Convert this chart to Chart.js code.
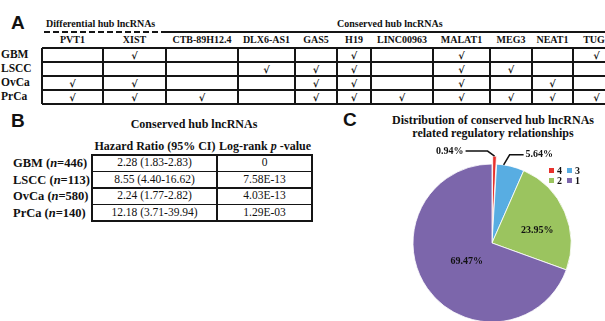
<!DOCTYPE html>
<html>
<head>
<meta charset="utf-8">
<script src="https://cdn.jsdelivr.net/npm/chart.js@4.4.0/dist/chart.umd.min.js"></script>
<style>
  html, body { margin: 0; padding: 0; background: #fff; }
  body { width: 605px; height: 321px; overflow: hidden; position: relative; }
  .t { position: absolute; white-space: nowrap; line-height: 1; color: #111;
       font-family: "Liberation Serif", "Times New Roman", serif; }
  .ln { position: absolute; background: #151515; }
  .panel { position: absolute; font-family: "Liberation Sans", Arial, sans-serif;
           font-weight: bold; font-size: 19px; line-height: 1; color: #111; }
  #pie { position: absolute; left: 392px; top: 143px; }
</style>
</head>
<body>
<canvas id="pie" width="200" height="200"></canvas>
<script>
// ---------- Panel A: hub lncRNAs per cancer type ----------
const diffLncs = ['PVT1', 'XIST', 'CTB-89H12.4', 'DLX6-AS1'];
const consLncs = ['GAS5', 'H19', 'LINC00963', 'MALAT1', 'MEG3', 'NEAT1', 'TUG1'];
const cancerTypes = ['GBM', 'LSCC', 'OvCa', 'PrCa'];
// 1 = lncRNA is a hub in that cancer (order: diffLncs then consLncs)
const hubGBM  = [0, 1, 0, 0, 0, 1, 0, 1, 0, 0, 1];
const hubLSCC = [0, 0, 0, 1, 1, 1, 0, 1, 1, 0, 0];
const hubOvCa = [1, 1, 0, 0, 1, 1, 0, 1, 0, 1, 0];
const hubPrCa = [1, 1, 1, 0, 1, 1, 1, 1, 1, 1, 1];

// ---------- Panel B: survival of conserved hubs ----------
const survivalCohorts = ['GBM', 'LSCC', 'OvCa', 'PrCa'];
const cohortSizes = [446, 113, 580, 140];
const hazardRatios = ['2.28 (1.83-2.83)', '8.55 (4.40-16.62)', '2.24 (1.77-2.82)', '12.18 (3.71-39.94)'];
const logRankP = ['0', '7.58E-13', '4.03E-13', '1.29E-03'];

// ---------- Panel C: regulatory relationship distribution ----------
const relationLabels = ['4', '3', '2', '1'];
const relationShares = [0.94, 5.64, 23.95, 69.47];
const relationColors = ['#e8312c', '#58ade2', '#9bc45f', '#7c66ab'];

// ---------- drawing helpers ----------
function text(str, x, y, font, align) {
  const d = document.createElement('div');
  d.className = 't';
  d.style.font = font;
  d.style.lineHeight = '1';
  d.innerHTML = str;
  d.style.left = x + 'px';
  d.style.top = y + 'px';
  const tx = align === 'l' ? '0' : (align === 'r' ? '-100%' : '-50%');
  d.style.transform = 'translate(' + tx + ', -50%)';
  document.body.appendChild(d);
  return d;
}
function hline(x1, x2, y, w) {
  const d = document.createElement('div');
  d.className = 'ln';
  Object.assign(d.style, { left: x1 + 'px', top: (y - w / 2) + 'px', width: (x2 - x1) + 'px', height: w + 'px' });
  document.body.appendChild(d);
  return d;
}
function vline(x, y1, y2, w) {
  const d = document.createElement('div');
  d.className = 'ln';
  Object.assign(d.style, { left: (x - w / 2) + 'px', top: y1 + 'px', width: w + 'px', height: (y2 - y1) + 'px' });
  document.body.appendChild(d);
  return d;
}
function panelLetter(ch, x, y) {
  const d = document.createElement('div');
  d.className = 'panel';
  d.textContent = ch;
  d.style.left = x + 'px';
  d.style.top = y + 'px';
  document.body.appendChild(d);
}

// ---------- Panel A ----------
panelLetter('A', 11, 13);
const fHead = 'bold 10px "Liberation Serif"';
text('Differential hub lncRNAs', 46, 24, fHead, 'l');
text('Conserved hub lncRNAs', 337, 24, fHead, 'l');
// dashed rule over the differential group, solid rule over the conserved group
const dash = hline(44, 163, 32, 2);
dash.style.background = 'repeating-linear-gradient(90deg, #151515 0 6px, transparent 6px 9px)';
hline(163, 605, 32, 2);

const colEdges = [42, 103, 166, 238, 295, 337, 371, 433, 490, 532, 573, 620];
const rowEdgesA = [48, 62, 76, 90, 104];
const allLncs = diffLncs.concat(consLncs);
const hubRows = [hubGBM, hubLSCC, hubOvCa, hubPrCa];

allLncs.forEach((name, j) => {
  text(name, (colEdges[j] + colEdges[j + 1]) / 2, 40, fHead, 'c');
});
rowEdgesA.forEach((y, i) => hline(42, 605, y, (i === 0 || i === rowEdgesA.length - 1) ? 1.8 : 1.4));
colEdges.forEach(x => vline(x, 48, 104, 1.4));
cancerTypes.forEach((c, i) => {
  const yc = (rowEdgesA[i] + rowEdgesA[i + 1]) / 2;
  text(c, 1, yc, 'bold 11.5px "Liberation Serif"', 'l');
  hubRows[i].forEach((flag, j) => {
    if (flag) text('√', (colEdges[j] + colEdges[j + 1]) / 2, yc + 0.5, 'bold 10px "DejaVu Serif"', 'c');
  });
});

// ---------- Panel B ----------
panelLetter('B', 11, 111);
text('Conserved hub lncRNAs', 194, 124, 'bold 12px "Liberation Serif"', 'c');
const colEdgesB = [92, 217, 312];
const rowEdgesB = [155, 171.5, 188, 204.5, 221];
text('Hazard Ratio (95% CI)', 155, 146, 'bold 12px "Liberation Serif"', 'c');
text('Log-rank <i>p</i> -value', 265, 146, 'bold 12px "Liberation Serif"', 'c');
rowEdgesB.forEach((y, i) => hline(91, 313, y, (i === 0 || i === rowEdgesB.length - 1) ? 2 : 1.5));
colEdgesB.forEach((x, i) => vline(x, 155, 221, i === 1 ? 1.5 : 2));
survivalCohorts.forEach((c, i) => {
  const yc = (rowEdgesB[i] + rowEdgesB[i + 1]) / 2;
  text(c + ' (<i>n</i>=' + cohortSizes[i] + ')', 13, yc, 'bold 12.5px "Liberation Serif"', 'l');
  text(hazardRatios[i], (colEdgesB[0] + colEdgesB[1]) / 2, yc, '11.5px "Liberation Serif"', 'c');
  text(logRankP[i], (colEdgesB[1] + colEdgesB[2]) / 2, yc, '11.5px "Liberation Serif"', 'c');
});

// ---------- Panel C ----------
panelLetter('C', 343, 110);
text('Distribution of conserved hub lncRNAs', 493, 120, 'bold 12px "Liberation Serif"', 'c');
text('related regulatory relationships', 493, 133, 'bold 12px "Liberation Serif"', 'c');

// per-slice label placement: leader lines for thin slices, nudges for inner labels
const labelStyle = [
  { leader: true, at: 0.5, gap: 8, elbow: [-7, -5], run: -22 },
  { leader: true, at: 0.25, gap: 0, elbow: [6, -10], run: 14 },
  { leader: false, nudge: [9, 3] },
  { leader: false, nudge: [7, -4] }
];

const pieAnnotations = {
  id: 'pieAnnotations',
  afterDatasetsDraw(chart) {
    const ctx = chart.ctx;
    const meta = chart.getDatasetMeta(0);
    ctx.save();
    ctx.font = 'bold 10px "Liberation Serif"';
    ctx.fillStyle = '#111';
    ctx.strokeStyle = '#111';
    ctx.lineWidth = 1.5;
    ctx.textBaseline = 'middle';
    meta.data.forEach((arc, i) => {
      const label = relationShares[i].toFixed(2) + '%';
      const st = labelStyle[i];
      if (st.leader) {
        const p = arc.getProps(['x', 'y', 'startAngle', 'endAngle', 'outerRadius'], true);
        const ang = p.startAngle + (p.endAngle - p.startAngle) * st.at;
        const r = p.outerRadius + st.gap;
        const ax = p.x + Math.cos(ang) * r, ay = p.y + Math.sin(ang) * r;
        const ex = ax + st.elbow[0], ey = ay + st.elbow[1];
        const tx = ex + st.run;
        ctx.beginPath();
        ctx.moveTo(ax, ay);
        ctx.lineTo(ex, ey);
        ctx.lineTo(tx, ey);
        ctx.stroke();
        ctx.textAlign = st.run < 0 ? 'right' : 'left';
        ctx.fillText(label, tx + (st.run < 0 ? -2 : 2), ey);
      } else {
        const pos = arc.tooltipPosition(true);
        ctx.textAlign = 'center';
        ctx.fillText(label, pos.x + st.nudge[0], pos.y + st.nudge[1]);
      }
    });
    // two-column legend
    const lx = chart.chartArea.left + 157, ly = chart.chartArea.top + 25;
    relationLabels.forEach((lab, i) => {
      const sx = lx + (i % 2) * 18, sy = ly + Math.floor(i / 2) * 10;
      ctx.fillStyle = relationColors[i];
      ctx.fillRect(sx, sy, 5, 5);
      ctx.fillStyle = '#111';
      ctx.textAlign = 'left';
      ctx.fillText(lab, sx + 8, sy + 3);
    });
    ctx.restore();
  }
};

new Chart(document.getElementById('pie'), {
  type: 'pie',
  data: {
    labels: relationLabels,
    datasets: [{
      data: relationShares,
      backgroundColor: relationColors,
      borderColor: 'rgba(255,255,255,0.8)',
      borderWidth: 1,
      offset: [16, 0, 0, 0]
    }]
  },
  options: {
    responsive: false,
    animation: false,
    devicePixelRatio: 1,
    radius: 79,
    layout: { padding: 0 },
    plugins: { legend: { display: false }, tooltip: { enabled: false } }
  },
  plugins: [pieAnnotations]
});
</script>
</body>
</html>
